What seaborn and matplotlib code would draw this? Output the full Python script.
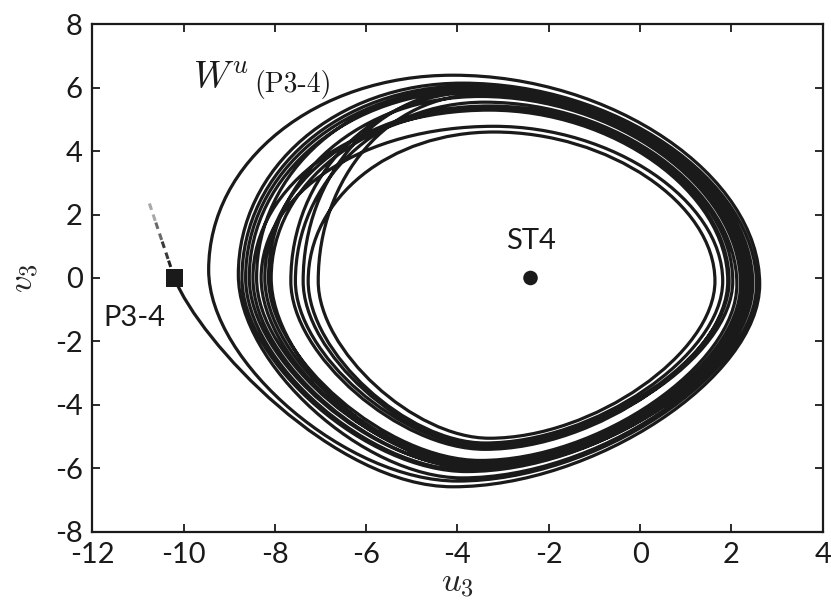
import matplotlib
matplotlib.use("Agg")
import matplotlib.pyplot as plt
import seaborn as sns
import pandas as pd
from matplotlib.path import Path
from matplotlib.patches import PathPatch

# Equilibria
saddle_u, saddle_v = -10.2, 0.0    # P3-4
center_u, center_v = -2.4, 0.0     # ST4

# Turning points of the unstable manifold W^u(P3-4), one entry per revolution,
# in the order the orbit visits them: bottom -> right -> top -> left.
# The bottom list carries one extra entry where the drawn orbit stops.
bottom_u = [-4.1, -4.0, -3.9, -3.8, -3.8, -3.7, -3.4, -3.6, -3.6, -3.3, -3.4, -3.6, -3.5, -3.4, -3.6, -3.4, -3.6]
bottom_v = [-6.58, -6.40, -6.30, -6.10, -6.05, -5.95, -5.40, -6.00, -5.85, -5.05, -5.20, -5.90, -5.75, -5.30, -5.80, -5.25, -5.95]
right_u = [2.62, 2.55, 2.47, 2.40, 2.35, 2.30, 1.92, 2.44, 2.25, 1.64, 1.81, 2.20, 2.12, 2.03, 2.38, 1.95]
right_v = [-0.2, -0.2, -0.2, -0.2, -0.2, -0.2, -0.1, -0.2, -0.2, -0.1, -0.1, -0.2, -0.2, -0.1, -0.2, -0.1]
top_u = [-4.1, -3.9, -3.8, -3.7, -3.6, -3.6, -3.3, -3.6, -3.5, -3.2, -3.2, -3.5, -3.4, -3.3, -3.6, -3.3]
top_v = [6.39, 6.14, 6.05, 5.98, 5.90, 5.85, 5.29, 6.02, 5.78, 4.60, 4.78, 5.72, 5.54, 5.42, 5.95, 5.35]
left_u = [-9.45, -8.80, -8.72, -8.64, -8.56, -7.65, -8.48, -8.40, -7.05, -7.27, -8.30, -8.14, -7.55, -8.22, -7.38, -8.08]
left_v = [0.25, 0.1, 0.0, 0.0, 0.0, -0.1, 0.0, 0.0, -0.1, -0.1, 0.0, 0.0, -0.1, 0.0, -0.1, 0.0]

# Leading part of the stable direction through P3-4 (dashed, fading out)
stable_u = [-10.2, -10.34, -10.48, -10.62, -10.76]
stable_v = [0.0, 0.6, 1.2, 1.8, 2.4]
stable_gray = ["#202020", "#3a3a3a", "#6a6a6a", "#a8a8a8"]

# Roundness of each quarter turn (Bezier handle fraction)
K_LR, K_UR, K_UL, K_LL = 0.46, 0.52, 0.56, 0.44

sns.set_theme(style="ticks", rc={
    "xtick.direction": "in", "ytick.direction": "in",
    "xtick.top": True, "ytick.right": True,
    "xtick.major.size": 6, "ytick.major.size": 6,
    "xtick.major.width": 1.3, "ytick.major.width": 1.3,
    "axes.linewidth": 1.6, "axes.edgecolor": "#1a1a1a",
    "xtick.color": "#1a1a1a", "ytick.color": "#1a1a1a",
    "axes.unicode_minus": False, "mathtext.fontset": "cm",
})
plt.rcParams["font.family"] = ["Lato", "DejaVu Sans"]

fig = plt.figure(figsize=(8.31, 6.03), dpi=100)
ax = fig.add_axes([0.111, 0.118, 0.879, 0.842])

# Build the manifold as a chain of cubic Bezier quarter turns
verts = [(saddle_u, saddle_v),
         (saddle_u + 0.55, saddle_v - 2.0),
         (bottom_u[0] - 2.6, bottom_v[0]),
         (bottom_u[0], bottom_v[0])]
codes = [Path.MOVETO, Path.CURVE4, Path.CURVE4, Path.CURVE4]
n = len(left_u)
for i in range(n):
    bu, bv = bottom_u[i], bottom_v[i]
    ru, rv = right_u[i], right_v[i]
    tu, tv = top_u[i], top_v[i]
    lu, lv = left_u[i], left_v[i]
    verts += [(bu + K_LR * (ru - bu), bv), (ru, rv - K_LR * (rv - bv)), (ru, rv)]
    verts += [(ru, rv + K_UR * (tv - rv)), (tu + K_UR * (ru - tu), tv), (tu, tv)]
    verts += [(tu - K_UL * (tu - lu), tv), (lu, lv + K_UL * (tv - lv)), (lu, lv)]
    nbu, nbv = bottom_u[i + 1], bottom_v[i + 1]
    verts += [(lu, lv - K_LL * (lv - nbv)), (nbu - K_LL * (nbu - lu), nbv), (nbu, nbv)]
    codes += [Path.CURVE4] * 12

ax.add_patch(PathPatch(Path(verts, codes), facecolor="none",
                       edgecolor="#1a1a1a", lw=2.3, capstyle="round", joinstyle="round"))

# Fading dashed stable direction
for j in range(len(stable_gray)):
    ax.plot(stable_u[j:j + 2], stable_v[j:j + 2], color=stable_gray[j],
            lw=2.2, ls=(0, (2.2, 1.6)), solid_capstyle="butt")

pts = pd.DataFrame({"u": [saddle_u, center_u], "v": [saddle_v, center_v],
                    "kind": ["P3-4", "ST4"]})
sns.scatterplot(data=pts, x="u", y="v", style="kind", markers={"P3-4": "s", "ST4": "o"},
                s=[160, 110], color="#1a1a1a", edgecolor="none", legend=False, ax=ax, zorder=5)

ax.text(center_u, 1.15, "ST4", ha="center", va="center", fontsize=21, color="#1a1a1a")
ax.text(-11.08, -1.26, "P3-4", ha="center", va="center", fontsize=21, color="#1a1a1a")
ax.text(-9.8, 6.0, r"$W^{u}$", ha="left", va="baseline", fontsize=27, color="#1a1a1a")
ax.text(-8.45, 5.85, "(P3-4)", ha="left", va="baseline", fontsize=20,
        family=["cmr10", "DejaVu Serif"], color="#1a1a1a")

ax.set_xlim(-12, 4)
ax.set_ylim(-8, 8)
ax.set_xticks(range(-12, 5, 2))
ax.set_yticks(range(-8, 9, 2))
ax.tick_params(labelsize=21, pad=7)
ax.set_xlabel(r"$u_3$", fontsize=25, labelpad=0)
ax.set_ylabel(r"$v_3$", fontsize=25, labelpad=10)

fig.savefig("out.png", dpi=100)
